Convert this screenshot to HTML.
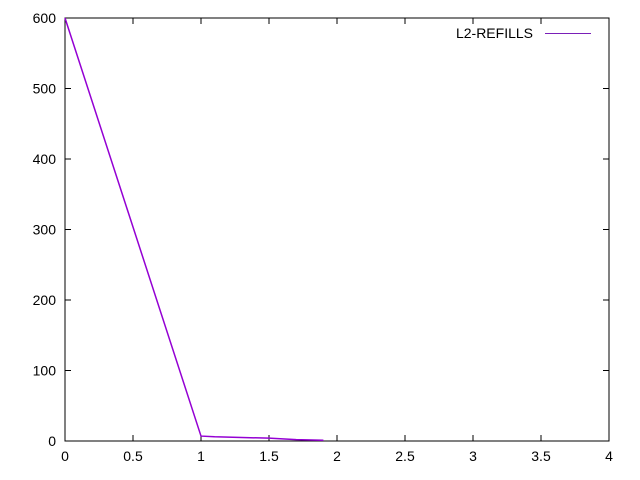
<!DOCTYPE html>
<html><head><meta charset="utf-8"><style>body{margin:0;background:#fff}svg{display:block;font-family:"Liberation Sans",sans-serif;font-size:14px}</style></head>
<body>
<svg id="c" width="640" height="480"></svg>
<script>
const xs=[0,1,1.1,1.3,1.5,1.7,1.9];
const ys=[600,7,6,5,4,2,1];
const xTicks=[0,0.5,1,1.5,2,2.5,3,3.5,4];
const xTickLabels=["0","0.5","1","1.5","2","2.5","3","3.5","4"];
const yTicks=[0,100,200,300,400,500,600];
const L=65,R=609,T=18,B=441;
const X=v=>L+(v-0)/4*(R-L), Y=v=>B-(v/600)*(B-T);
const s=document.getElementById('c'),NS='http://www.w3.org/2000/svg';
function el(t,a,p){const e=document.createElementNS(NS,t);for(const k in a)e.setAttribute(k,a[k]);(p||s).appendChild(e);return e;}
const frame=el('rect',{x:L,y:T,width:R-L,height:B-T,fill:'none',stroke:'#000','stroke-width':1});


xTicks.forEach((v,i)=>{
 const g=el('g',{});
 
 
 el('line',{x1:X(v),x2:X(v),y1:B,y2:B-6,stroke:'#000'},g);
 el('line',{x1:X(v),x2:X(v),y1:T,y2:T+6,stroke:'#000'},g);
 const t=el('text',{x:X(v),y:B+20,'text-anchor':'middle'},g);t.textContent=xTickLabels[i];
});
yTicks.forEach(v=>{
 const g=el('g',{});
 
 
 el('line',{x1:L,x2:L+6,y1:Y(v),y2:Y(v),stroke:'#000'},g);
 el('line',{x1:R,x2:R-6,y1:Y(v),y2:Y(v),stroke:'#000'},g);
 const t=el('text',{x:L-9,y:Y(v)+5,'text-anchor':'end'},g);t.textContent=v;
});
const line=el('polyline',{points:xs.map((x,i)=>X(x)+','+Y(ys[i])).join(' '),fill:'none',stroke:'#9400d3','stroke-width':1.5});


const lg=el('g',{});


const lt=el('text',{x:533,y:38,'text-anchor':'end'},lg);lt.textContent='L2-REFILLS';
el('line',{x1:545,x2:591,y1:33.5,y2:33.5,stroke:'#7a1fb8','stroke-width':1},lg);
</script>
</body></html>
